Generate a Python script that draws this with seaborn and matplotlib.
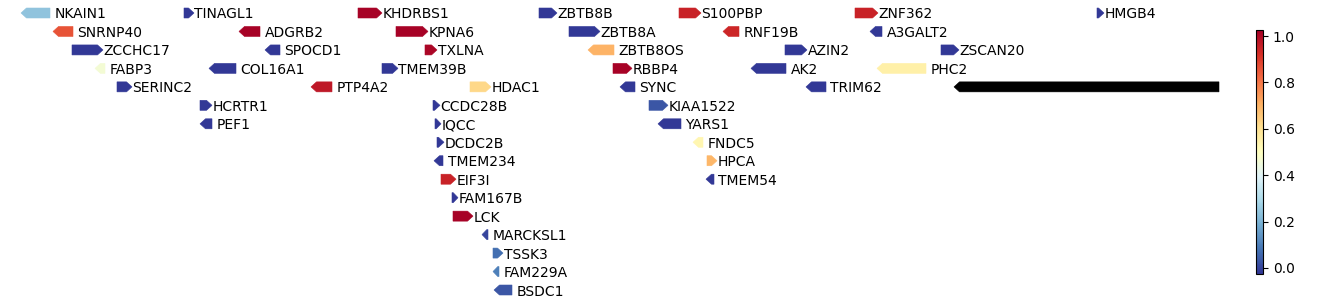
import numpy as np
import matplotlib
matplotlib.use("Agg")
import matplotlib.pyplot as plt
from matplotlib.patches import Polygon
from matplotlib.colors import Normalize
from matplotlib.cm import ScalarMappable
import seaborn as sns

# ---- data (positions in arbitrary genomic units) ----
genes = ["NKAIN1", "TINAGL1", "KHDRBS1", "ZBTB8B", "S100PBP", "ZNF362", "HMGB4",
         "SNRNP40", "ADGRB2", "KPNA6", "ZBTB8A", "RNF19B", "A3GALT2",
         "ZCCHC17", "SPOCD1", "TXLNA", "ZBTB8OS", "AZIN2", "ZSCAN20",
         "FABP3", "COL16A1", "TMEM39B", "RBBP4", "AK2", "PHC2",
         "SERINC2", "PTP4A2", "HDAC1", "SYNC", "TRIM62", "",
         "HCRTR1", "CCDC28B", "KIAA1522",
         "PEF1", "IQCC", "YARS1",
         "DCDC2B", "FNDC5",
         "TMEM234", "HPCA",
         "EIF3I", "TMEM54",
         "FAM167B", "LCK", "MARCKSL1", "TSSK3", "FAM229A", "BSDC1"]
starts = [21, 184, 358, 539, 679, 855, 1097,
          53, 239, 396, 569, 723, 870,
          72, 265, 425, 588, 785, 941,
          95, 209, 382, 613, 751, 877,
          117, 311, 470, 620, 806, 954,
          200, 433, 649,
          200, 435, 658,
          437, 693,
          434, 707,
          441, 706,
          452, 453, 482, 493, 493, 494]
ends = [50, 194, 382, 557, 701, 878, 1104,
        73, 260, 428, 600, 739, 882,
        103, 280, 437, 614, 807, 959,
        105, 236, 398, 632, 786, 926,
        132, 332, 491, 635, 826, 1219,
        212, 440, 668,
        212, 441, 681,
        444, 703,
        443, 717,
        456, 714,
        458, 473, 488, 503, 499, 512]
strands = [-1, 1, 1, 1, 1, 1, 1,
           -1, -1, 1, 1, -1, -1,
           1, -1, 1, -1, 1, 1,
           -1, -1, 1, 1, -1, -1,
           1, -1, 1, -1, -1, -1,
           1, 1, 1,
           -1, 1, -1,
           1, -1,
           -1, 1,
           1, -1,
           1, 1, -1, 1, -1, -1]
rows = [0, 0, 0, 0, 0, 0, 0,
        1, 1, 1, 1, 1, 1,
        2, 2, 2, 2, 2, 2,
        3, 3, 3, 3, 3, 3,
        4, 4, 4, 4, 4, 4,
        5, 5, 5,
        6, 6, 6,
        7, 7,
        8, 8,
        9, 9,
        10, 11, 12, 13, 14, 15]
values = [0.24, -0.02, 1.02, -0.02, 0.95, 0.95, -0.02,
          0.86, 1.02, 1.02, -0.02, 0.94, -0.02,
          -0.02, -0.02, 1.01, 0.70, -0.02, -0.02,
          0.46, -0.02, -0.02, 1.02, -0.02, 0.55,
          -0.02, 0.97, 0.62, -0.02, -0.02, np.nan,
          -0.02, -0.02, 0.03,
          -0.02, -0.02, -0.02,
          -0.02, 0.53,
          -0.02, 0.69,
          0.95, -0.02,
          -0.02, 1.02, 0.0, 0.07, 0.10, 0.03]

sns.set_style("white")
plt.rcParams['font.family'] = ['DejaVu Sans']
plt.rcParams.update({"text.color": "black", "axes.edgecolor": "black",
                     "ytick.color": "black", "axes.labelcolor": "black"})

cmap = sns.color_palette("RdYlBu_r", as_cmap=True)
norm = Normalize(vmin=-0.026, vmax=1.026)

W, H = 1338, 305
fig = plt.figure(figsize=(W / 100, H / 100), dpi=100)
ax = fig.add_axes([0, 0, 1240 / W, 1])
ax.set_xlim(0, 1240)
row_px = 18.467
ax.set_ylim((H - 13) / row_px, -13 / row_px)
ax.axis("off")

half_h = 5.0 / row_px   # half height of arrow body in row units
head = 5.5

for g, s, e, st, r, v in zip(genes, starts, ends, strands, rows, values):
    L = e - s
    hl = min(head, L * 0.8)
    if st > 0:
        pts = [(s, r - half_h), (e - hl, r - half_h), (e, r), (e - hl, r + half_h), (s, r + half_h)]
        tx = e + 0.5
    else:
        pts = [(e, r - half_h), (s + hl, r - half_h), (s, r), (s + hl, r + half_h), (e, r + half_h)]
        tx = e + 4.5
    col = "black" if np.isnan(v) else cmap(norm(v))
    ax.add_patch(Polygon(pts, closed=True, facecolor=col, edgecolor=col, lw=0.4))
    if g:
        ax.text(tx, r, g, fontsize=10, ha="left", va="center_baseline", color="black")

cax = fig.add_axes([1256 / W, (H - 274) / H, 7 / W, 244 / H])
cb = fig.colorbar(ScalarMappable(norm=norm, cmap=cmap), cax=cax)
cb.set_ticks([0.0, 0.2, 0.4, 0.6, 0.8, 1.0])
cb.ax.tick_params(labelsize=10, length=3.5, width=0.8, color="black",
                  labelcolor="black", direction="out", right=True)
cb.outline.set_edgecolor("black")
cb.outline.set_linewidth(0.8)

fig.savefig("out.png", dpi=100)
